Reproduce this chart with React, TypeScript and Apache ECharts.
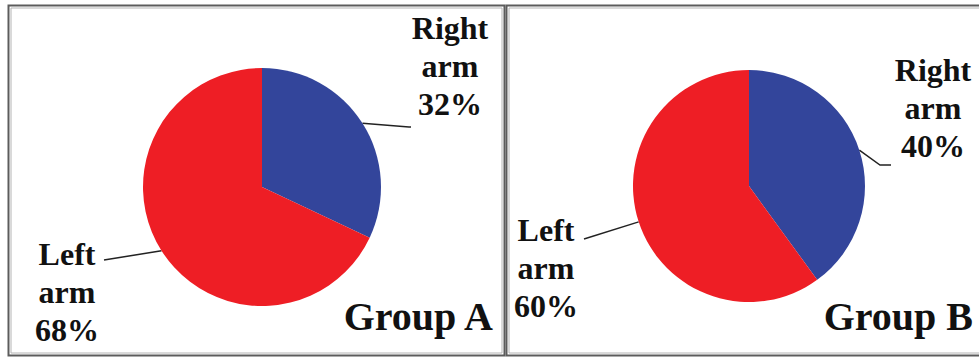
import React, { useEffect, useRef } from "react";
import * as echarts from "echarts";

// Arm preference shares for each group
const categories = ["Right arm", "Left arm"];
const groupAValues = [32, 68];
const groupBValues = [40, 60];
const groupTitles = ["Group A", "Group B"];

const sliceColors = ["#33459b", "#ee1e25"];
const serif = "Times New Roman, Liberation Serif, serif";

// Label placement per slice: block centre and where the leader line meets the text
const labelPlacementA = [
  { x: 450, y: 66, bend: [409, 127], end: [411, 127] },
  { x: 67, y: 292, bend: [104, 260], end: [104, 260] },
];
const labelPlacementB = [
  { x: 933, y: 108, bend: [880, 165], end: [891, 165] },
  { x: 546, y: 268, bend: [584, 239], end: [584, 239] },
];

function makePie(values: number[], center: number[], radius: number, placement: any[]) {
  return {
    type: "pie",
    center,
    radius,
    startAngle: 90,
    clockwise: true,
    silent: true,
    animation: false,
    emphasis: { disabled: true },
    data: categories.map((name, i) => ({
      name,
      value: values[i],
      itemStyle: { color: sliceColors[i] },
    })),
    label: {
      show: true,
      position: "outside",
      formatter: (p: any) => `${p.name.split(" ").join("\n")}\n${Math.round(p.percent)}%`,
      fontFamily: serif,
      fontWeight: "bold",
      fontSize: 32,
      lineHeight: 38,
      color: "#111",
      align: "center",
    },
    labelLine: {
      show: true,
      length: 10,
      length2: 10,
      lineStyle: { color: "#222", width: 1.5 },
    },
    labelLayout: (params: any) => {
      const pl = placement[params.dataIndex];
      const start = params.labelLinePoints ? params.labelLinePoints[0] : pl.bend;
      return {
        x: pl.x,
        y: pl.y,
        align: "center",
        verticalAlign: "middle",
        labelLinePoints: [start, pl.bend, pl.end],
      };
    },
  };
}

export default function App() {
  const ref = useRef<HTMLDivElement>(null);

  useEffect(() => {
    if (!ref.current) return;
    const chart = echarts.init(ref.current, null, { renderer: "svg" });

    const frame = (x: number, y: number, w: number, h: number) => [
      {
        type: "rect",
        shape: { x, y, width: w, height: h },
        style: { fill: "none", stroke: "#5c5c5c", lineWidth: 2 },
        silent: true,
      },
      {
        type: "rect",
        shape: { x: x + 2.5, y: y + 2.5, width: w - 5, height: h - 5 },
        style: { fill: "none", stroke: "#b4b4b4", lineWidth: 1 },
        silent: true,
      },
    ];

    const titleText = (text: string, x: number) => ({
      type: "text",
      x,
      y: 316,
      silent: true,
      style: {
        text,
        font: `bold 40px ${serif}`,
        fill: "#111",
        textAlign: "right",
        textVerticalAlign: "middle",
      },
    });

    chart.setOption({
      animation: false,
      backgroundColor: "#ffffff",
      textStyle: { fontFamily: serif },
      graphic: [
        ...frame(8.5, 5.5, 496, 350),
        ...frame(506.5, 5.5, 480, 350),
        titleText(groupTitles[0], 493),
        titleText(groupTitles[1], 973),
      ],
      series: [
        makePie(groupAValues, [262, 187], 119, labelPlacementA),
        makePie(groupBValues, [749, 186], 116, labelPlacementB),
      ],
    });

    return () => chart.dispose();
  }, []);

  return (
    <div
      ref={ref}
      style={{ position: "fixed", left: 0, top: 0, width: 979, height: 358 }}
    />
  );
}
